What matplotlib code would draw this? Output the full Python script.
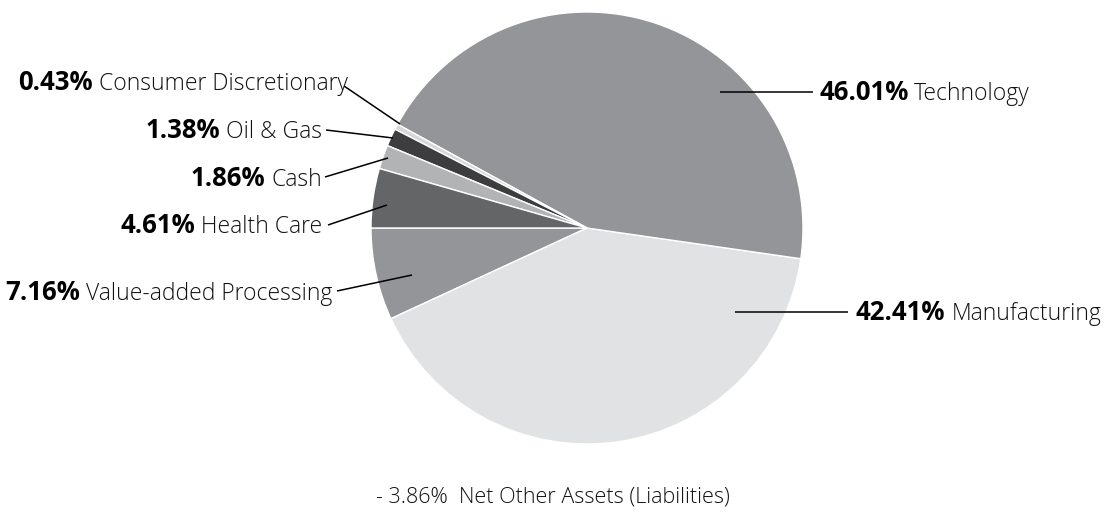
import matplotlib
matplotlib.use("Agg")
import matplotlib.pyplot as plt

# ---- data ----
sectors = ["Value-added Processing", "Manufacturing", "Technology",
           "Consumer Discretionary", "Oil & Gas", "Cash", "Health Care"]
weights = [7.16, 42.41, 46.01, 0.43, 1.38, 1.86, 4.61]
pct_labels = ["7.16%", "42.41%", "46.01%", "0.43%", "1.38%", "1.86%", "4.61%"]
footnote = "- 3.86%  Net Other Assets (Liabilities)"

colors = ["#939598", "#e1e2e3", "#939598", "#d6d7d8", "#3d3d3f", "#b2b3b5", "#646567"]

W, H = 1104, 514
fig = plt.figure(figsize=(W / 100, H / 100), dpi=100)
ax = fig.add_axes([0, 0, 1, 1])
ax.set_xlim(0, W)
ax.set_ylim(0, H)
ax.axis("off")

def Y(y):
    return H - y

cx, cy, R = 587, Y(228), 216
ax.pie(weights, colors=colors, startangle=180, counterclock=True,
       center=(cx, cy), radius=R,
       wedgeprops=dict(edgecolor="white", linewidth=1.0))
ax.set_xlim(0, W)
ax.set_ylim(0, H)
ax.set_aspect("auto")

FONT = "Open Sans"
FS = 16.5
FSB = 18.5

layout = {
    "Technology": ((720, 92), (813, 92), 819, "L"),
    "Manufacturing": ((735, 312), (848, 312), 856, "L"),
    "Consumer Discretionary": ((400, 124), (344, 86), 348, "R"),
    "Oil & Gas": ((393, 138), (326, 130), 322, "R"),
    "Cash": ((388, 158), (325, 177), 322, "R"),
    "Health Care": ((387, 205), (328, 225), 322, "R"),
    "Value-added Processing": ((412, 275), (337, 291), 332, "R"),
}
baseline_y = {
    "Technology": 100, "Manufacturing": 320, "Consumer Discretionary": 90,
    "Oil & Gas": 138, "Cash": 186, "Health Care": 233,
    "Value-added Processing": 300,
}

renderer = fig.canvas.get_renderer()

def width_of(t):
    return t.get_window_extent(renderer=renderer).width

GAP = 6
for name, pct in zip(sectors, pct_labels):
    (x1, y1), (x2, y2), tx, side = layout[name]
    ax.plot([x1, x2], [Y(y1), Y(y2)], color="black", lw=1.1, solid_capstyle="butt")
    ty = Y(baseline_y[name])
    if side == "L":
        tb = ax.text(tx, ty, pct, fontsize=FSB, fontweight="bold", family=FONT,
                     ha="left", va="baseline", color="black")
        wb = width_of(tb)
        ax.text(tx + wb + GAP, ty, name, fontsize=FS, fontweight="light", family=FONT,
                ha="left", va="baseline", color="#111111")
    else:
        tr = ax.text(tx, ty, name, fontsize=FS, fontweight="light", family=FONT,
                     ha="right", va="baseline", color="#111111")
        wr = width_of(tr)
        ax.text(tx - wr - GAP, ty, pct, fontsize=FSB, fontweight="bold", family=FONT,
                ha="right", va="baseline", color="black")

ax.text(553, Y(497), footnote, fontsize=15.5, fontweight="light", family=FONT,
        ha="center", va="center", color="#111111")

fig.savefig("out.png", dpi=100)
